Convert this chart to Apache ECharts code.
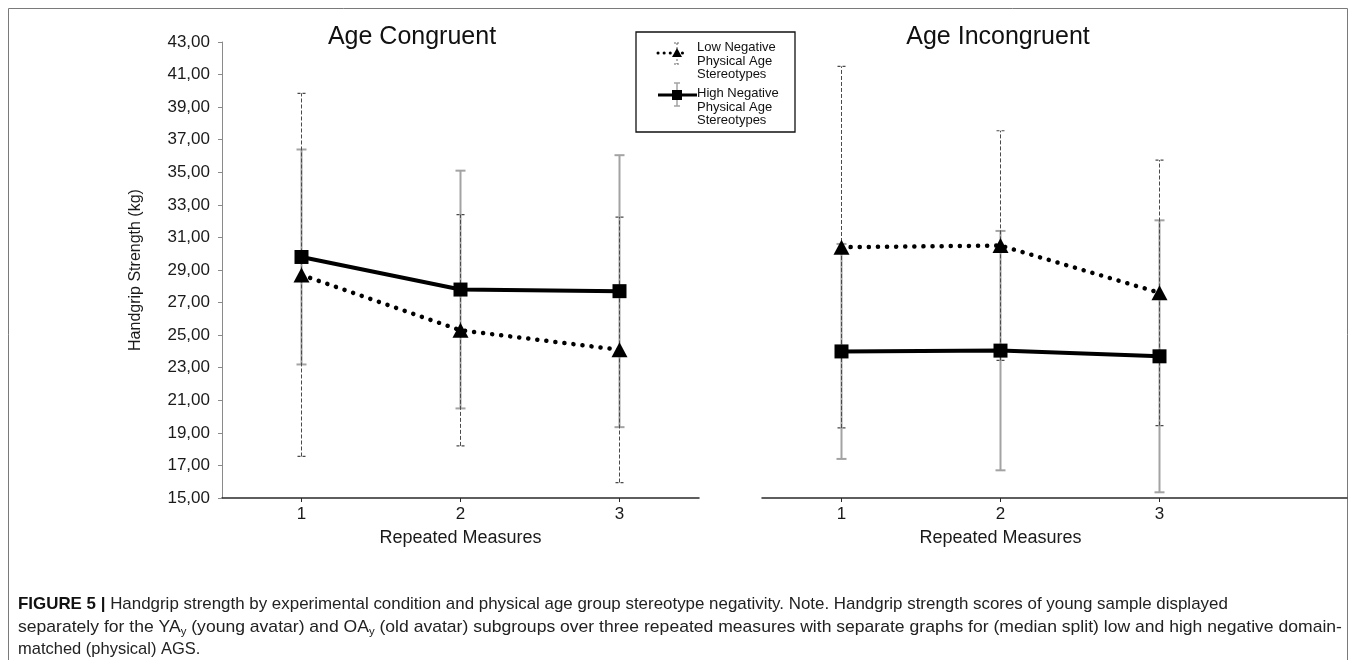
<!DOCTYPE html>
<html>
<head>
<meta charset="utf-8">
<script src="https://cdn.jsdelivr.net/npm/echarts@6/dist/echarts.min.js"></script>
<style>
  html, body { margin: 0; padding: 0; background: #fff; }
  #chart { width: 1355px; height: 660px; }
</style>
</head>
<body>
<div id="chart"></div>
<script>
// Repeated handgrip measures (x categories)
const measures = ['1', '2', '3'];

// Y scale (kg)
const yMin = 15;
const yMax = 43;
const yStep = 2;

// Age congruent panel: means and error half-widths
const congruentLowMean  = [28.7, 25.3, 24.1];
const congruentLowErr   = [11.15, 7.1, 8.15];
const congruentHighMean = [29.8, 27.8, 27.7];
const congruentHighErr  = [6.6, 7.3, 8.35];

// Age incongruent panel: means and error half-widths
const incongruentLowMean  = [30.4, 30.5, 27.6];
const incongruentLowErr   = [11.1, 7.05, 8.15];
const incongruentHighMean = [24.0, 24.05, 23.7];
const incongruentHighErr  = [6.6, 7.35, 8.35];

const panelTitles = ['Age Congruent', 'Age Incongruent'];
const seriesNames = ['Low Negative Physical Age Stereotypes', 'High Negative Physical Age Stereotypes'];

const FONT = '"Liberation Sans", Arial, Helvetica, sans-serif';

const chart = echarts.init(document.getElementById('chart'), null, { renderer: 'canvas' });

const xs = measures.map((m, i) => i + 1);

// Vertical error bar drawn through the axis scales
function errorBars(name, gi, mean, err, st, z) {
  return {
    name: name,
    type: 'custom',
    xAxisIndex: gi,
    yAxisIndex: gi,
    z: z,
    silent: true,
    data: mean.map((m, i) => [xs[i], m - err[i], m + err[i]]),
    encode: { x: 0, y: [1, 2] },
    renderItem: function (params, api) {
      const x = api.value(0);
      const lo = api.coord([x, api.value(1)]);
      const hi = api.coord([x, api.value(2)]);
      const hw = st.cap;
      const bar = { stroke: st.color, lineWidth: st.width, lineDash: st.dash || null };
      const cap = { stroke: st.color, lineWidth: st.capWidth, lineDash: st.capDash || null };
      return {
        type: 'group',
        children: [
          { type: 'line', shape: { x1: lo[0], y1: lo[1], x2: hi[0], y2: hi[1] }, style: bar },
          { type: 'line', shape: { x1: lo[0] - hw, y1: lo[1], x2: lo[0] + hw, y2: lo[1] }, style: cap },
          { type: 'line', shape: { x1: hi[0] - hw, y1: hi[1], x2: hi[0] + hw, y2: hi[1] }, style: cap }
        ]
      };
    }
  };
}

const lowBarStyle  = { color: '#4a4a4a', width: 1, dash: [4, 2], cap: 4, capWidth: 1.2, capDash: [3, 2] };
const highBarStyle = { color: '#a3a3a3', width: 2, cap: 5, capWidth: 2 };

function lowLine(gi, mean) {
  return {
    name: seriesNames[0],
    type: 'line',
    xAxisIndex: gi, yAxisIndex: gi,
    z: 4,
    data: mean.map((m, i) => [xs[i], m]),
    symbol: 'triangle',
    symbolSize: [16, 15],
    itemStyle: { color: '#000' },
    lineStyle: { color: '#000', width: 4.5, type: [0.1, 9], cap: 'round' },
    animation: false
  };
}
function highLine(gi, mean) {
  return {
    name: seriesNames[1],
    type: 'line',
    xAxisIndex: gi, yAxisIndex: gi,
    z: 5,
    data: mean.map((m, i) => [xs[i], m]),
    symbol: 'rect',
    symbolSize: 14,
    itemStyle: { color: '#000' },
    lineStyle: { color: '#000', width: 4 },
    animation: false
  };
}

const catWidth = 159;
const grids = [
  { left: 222, top: 42, width: catWidth * 3, height: 456 },
  { left: 762, top: 42, width: 585, height: 456 }
];

function xAxis(gi) {
  // keep the axis name centred under the middle measure even when the line runs on
  const extra = grids[gi].width - catWidth * 3;
  return {
    type: 'value',
    gridIndex: gi,
    min: 0.5,
    max: 0.5 + grids[gi].width / catWidth,
    axisLine: { show: true, lineStyle: { color: '#2a2a2a', width: 1.5 } },
    axisTick: { show: true, customValues: xs, length: 4, lineStyle: { color: '#2a2a2a' } },
    axisLabel: {
      customValues: xs,
      formatter: v => measures[Math.round(v) - 1],
      fontSize: 17, color: '#1a1a1a', fontFamily: FONT, margin: 8
    },
    splitLine: { show: false },
    name: 'Repeated Measures',
    nameLocation: 'middle',
    nameGap: 31,
    nameTextStyle: { fontSize: 18, color: '#1a1a1a', fontFamily: FONT, padding: [0, extra, 0, 0] }
  };
}

function yAxis(gi) {
  const visible = gi === 0;
  return {
    type: 'value',
    gridIndex: gi,
    min: yMin, max: yMax, interval: yStep,
    show: visible,
    axisLine: { show: visible, lineStyle: { color: '#8a8a8a', width: 1 } },
    axisTick: { show: visible, length: 4, lineStyle: { color: '#8a8a8a' } },
    axisLabel: {
      show: visible,
      formatter: v => v.toFixed(2).replace('.', ','),
      fontSize: 17, color: '#1a1a1a', fontFamily: FONT, margin: 12
    },
    splitLine: { show: false },
    name: visible ? 'Handgrip Strength (kg)' : '',
    nameLocation: 'middle',
    nameRotate: 90,
    nameGap: 78,
    nameTextStyle: { fontSize: 16, color: '#1a1a1a', fontFamily: FONT }
  };
}

// Legend drawn as a framed key
const legendX = 636, legendY = 32;
const legendGraphics = [
  { type: 'rect', shape: { x: legendX, y: legendY, width: 159, height: 100 },
    style: { fill: '#fff', stroke: '#111', lineWidth: 1.3 }, z: 10 },
  // low negative key
  { type: 'line', shape: { x1: 658, y1: 53, x2: 688, y2: 53 },
    style: { stroke: '#000', lineWidth: 3, lineDash: [0.1, 6], lineCap: 'round' }, z: 11 },
  { type: 'line', shape: { x1: 677, y1: 43, x2: 677, y2: 64 },
    style: { stroke: '#666', lineWidth: 1, lineDash: [2, 2] }, z: 11 },
  { type: 'line', shape: { x1: 674, y1: 43, x2: 680, y2: 43 },
    style: { stroke: '#666', lineWidth: 1, lineDash: [2, 1] }, z: 11 },
  { type: 'line', shape: { x1: 674, y1: 64, x2: 680, y2: 64 },
    style: { stroke: '#666', lineWidth: 1, lineDash: [2, 1] }, z: 11 },
  { type: 'polygon', shape: { points: [[677, 48], [682, 57], [672, 57]] },
    style: { fill: '#000' }, z: 12 },
  { type: 'text', x: 697, y: 41,
    style: { text: 'Low Negative\nPhysical Age\nStereotypes', fontSize: 13, lineHeight: 13.3,
             fontFamily: FONT, fill: '#111' }, z: 12 },
  // high negative key
  { type: 'line', shape: { x1: 677, y1: 83, x2: 677, y2: 106 },
    style: { stroke: '#a3a3a3', lineWidth: 1.5 }, z: 11 },
  { type: 'line', shape: { x1: 674, y1: 83, x2: 680, y2: 83 },
    style: { stroke: '#a3a3a3', lineWidth: 1.5 }, z: 11 },
  { type: 'line', shape: { x1: 674, y1: 106, x2: 680, y2: 106 },
    style: { stroke: '#a3a3a3', lineWidth: 1.5 }, z: 11 },
  { type: 'line', shape: { x1: 658, y1: 95, x2: 697, y2: 95 },
    style: { stroke: '#000', lineWidth: 3 }, z: 12 },
  { type: 'rect', shape: { x: 672, y: 90, width: 10, height: 10 },
    style: { fill: '#000' }, z: 12 },
  { type: 'text', x: 697, y: 87,
    style: { text: 'High Negative\nPhysical Age\nStereotypes', fontSize: 13, lineHeight: 13.3,
             fontFamily: FONT, fill: '#111' }, z: 12 }
];

// Figure caption
const captionRich = {
  b: { fontSize: 17, fontWeight: 'bold', fontFamily: FONT, fill: '#111' },
  n: { fontSize: 17, fontFamily: FONT, fill: '#222', lineHeight: 20 },
  s: { fontSize: 11, fontFamily: FONT, fill: '#222', lineHeight: 10, verticalAlign: 'bottom' }
};
const captionGraphics = [
  { type: 'text', x: 18, y: 604, scaleX: 0.995,
    style: { text: '{b|FIGURE 5 |}{n| Handgrip strength by experimental condition and physical age group stereotype negativity. Note. Handgrip strength scores of young sample displayed}',
             rich: captionRich, verticalAlign: 'middle' } },
  { type: 'text', x: 18, y: 627, scaleX: 1.033,
    style: { text: '{n|separately for the YA}{s|y}{n| (young avatar) and OA}{s|y}{n| (old avatar) subgroups over three repeated measures with separate graphs for (median split) low and high negative domain-}',
             rich: captionRich, verticalAlign: 'middle' } },
  { type: 'text', x: 18, y: 649, scaleX: 0.97,
    style: { text: '{n|matched (physical) AGS.}', rich: captionRich, verticalAlign: 'middle' } }
];

const option = {
  backgroundColor: '#fff',
  animation: false,
  textStyle: { fontFamily: FONT },
  grid: grids,
  xAxis: [xAxis(0), xAxis(1)],
  yAxis: [yAxis(0), yAxis(1)],
  series: [
    errorBars('congruent high error', 0, congruentHighMean, congruentHighErr, highBarStyle, 1),
    errorBars('congruent low error', 0, congruentLowMean, congruentLowErr, lowBarStyle, 2),
    lowLine(0, congruentLowMean),
    highLine(0, congruentHighMean),
    errorBars('incongruent high error', 1, incongruentHighMean, incongruentHighErr, highBarStyle, 1),
    errorBars('incongruent low error', 1, incongruentLowMean, incongruentLowErr, lowBarStyle, 2),
    lowLine(1, incongruentLowMean),
    highLine(1, incongruentHighMean)
  ],
  graphic: [
    // outer frame
    { type: 'rect', shape: { x: 8.5, y: 8.5, width: 1339, height: 700 },
      style: { fill: 'none', stroke: '#7a7a7a', lineWidth: 1 }, z: 0, silent: true },
    { type: 'text', x: 412, y: 37,
      style: { text: panelTitles[0], fontSize: 25, fontFamily: FONT, fill: '#111',
               align: 'center', verticalAlign: 'middle' } },
    { type: 'text', x: 998, y: 37,
      style: { text: panelTitles[1], fontSize: 25, fontFamily: FONT, fill: '#111',
               align: 'center', verticalAlign: 'middle' } }
  ].concat(legendGraphics, captionGraphics)
};

chart.setOption(option);
</script>
</body>
</html>
